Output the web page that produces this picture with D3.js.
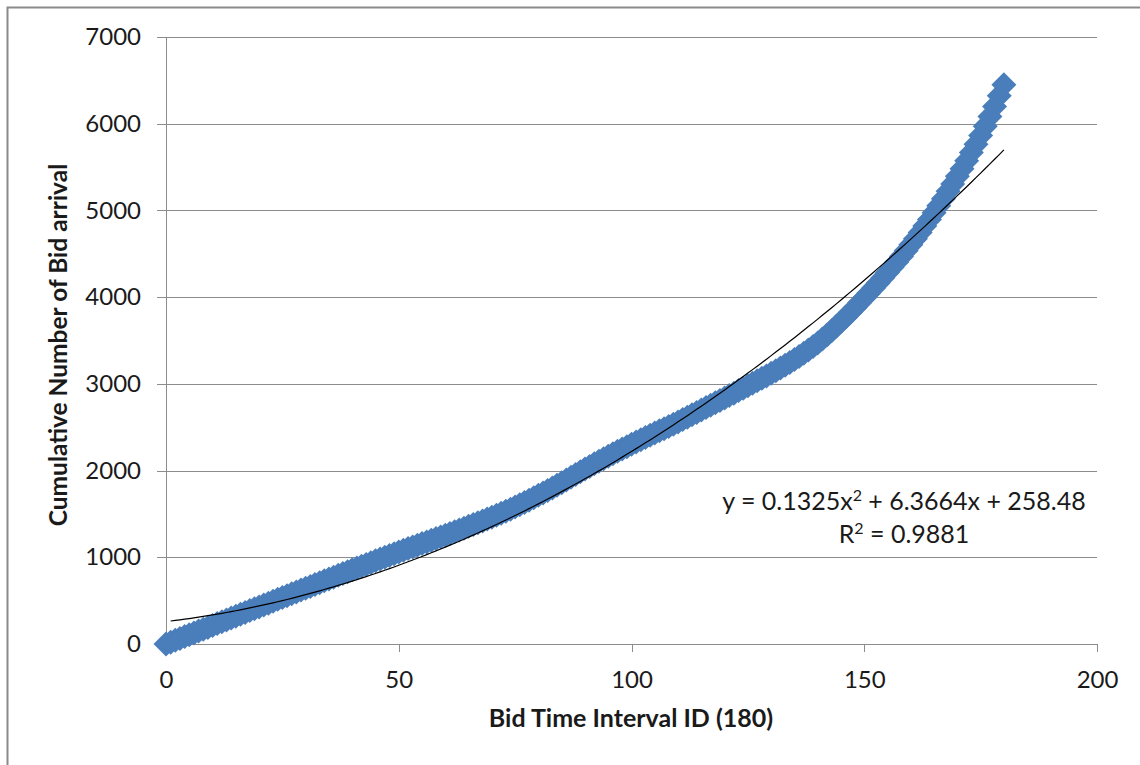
<!DOCTYPE html>
<html>
<head>
<meta charset="utf-8">
<script src="https://cdn.jsdelivr.net/npm/d3@7"></script>
<style>
  html, body { margin: 0; padding: 0; background: #fff; }
  svg { display: block; }
</style>
</head>
<body>
<div id="chart"></div>
<script>
// interval ids (0..180) and cumulative bid arrivals
var intervalIds = d3.range(0, 181);
var cumulativeBids = [
  0,
  20, 42, 63, 86, 106, 128, 149, 171, 191, 214,
  235, 257, 277, 299, 320, 343, 364, 386, 406, 428,
  450, 471, 494, 515, 537, 557, 579, 600, 622, 642,
  663, 685, 706, 728, 749, 770, 792, 813, 834, 856,
  876, 897, 918, 938, 959, 979, 1000, 1020, 1041, 1061,
  1080, 1100, 1119, 1138, 1158, 1177, 1196, 1216, 1235, 1255,
  1275, 1295, 1316, 1336, 1357, 1378, 1398, 1419, 1441, 1462,
  1484, 1507, 1531, 1555, 1580, 1606, 1632, 1659, 1686, 1714,
  1742, 1771, 1800, 1830, 1860, 1891, 1922, 1954, 1985, 2017,
  2048, 2078, 2108, 2137, 2166, 2194, 2222, 2249, 2276, 2303,
  2329, 2355, 2381, 2406, 2432, 2458, 2483, 2509, 2535, 2561,
  2588, 2615, 2643, 2670, 2698, 2726, 2753, 2781, 2809, 2837,
  2865, 2893, 2922, 2950, 2979, 3007, 3035, 3064, 3092, 3121,
  3151, 3182, 3214, 3247, 3281, 3316, 3352, 3390, 3430, 3472,
  3517, 3564, 3613, 3664, 3716, 3769, 3823, 3878, 3934, 3991,
  4048, 4106, 4164, 4223, 4283, 4344, 4406, 4470, 4536, 4604,
  4674, 4746, 4820, 4896, 4974, 5054, 5136, 5220, 5306, 5394,
  5482, 5573, 5667, 5764, 5865, 5971, 6082, 6199, 6322, 6450
];

// polynomial trendline shown on the chart: c2*x^2 + c1*x + c0
var trendCoeffs = [0.1325, 6.3664, 258.48];
var trendRange = [1, 180];
var rSquared = "0.9881";

var xTicks = [0, 50, 100, 150, 200];
var yTicks = [0, 1000, 2000, 3000, 4000, 5000, 6000, 7000];

var xTitle = "Bid Time Interval ID (180)";
var yTitle = "Cumulative Number of Bid arrival";

var width = 1140, height = 765;
var font = "Lato, 'Open Sans', sans-serif";

var svg = d3.select("#chart").append("svg")
    .attr("width", width)
    .attr("height", height);

// chart frame (right and bottom edges fall outside the picture)
svg.append("rect")
    .attr("x", 7.5).attr("y", 7.5)
    .attr("width", 1150).attr("height", 780)
    .attr("fill", "#fff")
    .attr("stroke", "#8a8a8a")
    .attr("stroke-width", 2);

var x = d3.scaleLinear().domain([0, 200]).range([166, 1097]);
var y = d3.scaleLinear().domain([0, 7000]).range([644, 37]);

// gridlines
svg.append("g")
    .attr("transform", "translate(166,0)")
    .call(d3.axisRight(y).tickValues(yTicks.slice(1)).tickSize(1097 - 166).tickFormat(""))
    .call(function(g) { g.select(".domain").remove(); })
    .selectAll("line")
    .attr("stroke", "#8c8c8c")
    .attr("shape-rendering", "crispEdges");

// y axis
var yAxis = svg.append("g")
    .attr("transform", "translate(166,0)")
    .call(d3.axisLeft(y).tickValues(yTicks).tickFormat(d3.format("d"))
        .tickSize(9).tickPadding(16).tickSizeOuter(0));
yAxis.select(".domain").attr("stroke", "#8c8c8c").attr("shape-rendering", "crispEdges");
yAxis.selectAll("line").attr("stroke", "#8c8c8c").attr("shape-rendering", "crispEdges");
yAxis.selectAll("text")
    .attr("font-family", font)
    .attr("font-size", 24)
    .attr("fill", "#1a1a1a");

// x axis
var xAxis = svg.append("g")
    .attr("transform", "translate(0,644)")
    .call(d3.axisBottom(x).tickValues(xTicks).tickSize(8).tickPadding(19).tickSizeOuter(0));
xAxis.select(".domain").attr("stroke", "#8c8c8c").attr("shape-rendering", "crispEdges");
xAxis.selectAll("line").attr("stroke", "#8c8c8c").attr("shape-rendering", "crispEdges");
xAxis.selectAll("text")
    .attr("font-family", font)
    .attr("font-size", 24)
    .attr("fill", "#1a1a1a");

// data markers (diamonds)
var r = 12.5;
var diamond = "M0," + (-r) + "L" + r + ",0L0," + r + "L" + (-r) + ",0Z";

svg.append("g")
    .selectAll("path")
    .data(intervalIds)
    .enter().append("path")
    .attr("d", diamond)
    .attr("transform", function(d, i) { return "translate(" + x(d) + "," + y(cumulativeBids[i]) + ")"; })
    .attr("fill", "#4a7ebb");

// trendline
var trendX = d3.range(trendRange[0], trendRange[1] + 0.5, 1);
var line = d3.line()
    .x(function(d) { return x(d); })
    .y(function(d) { return y(trendCoeffs[0] * d * d + trendCoeffs[1] * d + trendCoeffs[2]); });

svg.append("path")
    .datum(trendX)
    .attr("d", line)
    .attr("fill", "none")
    .attr("stroke", "#000")
    .attr("stroke-width", 1.2);

// trendline equation, with real superscripts
function supText(xPos, yPos, parts) {
    var t = svg.append("text")
        .attr("x", xPos).attr("y", yPos)
        .attr("text-anchor", "middle")
        .attr("font-family", font)
        .attr("font-size", 25)
        .attr("fill", "#1a1a1a");
    parts.forEach(function(p) {
        var s = t.append("tspan").text(p[0]);
        if (p[1]) s.attr("font-size", 16).attr("dy", -9);
        else if (p[2]) s.attr("dy", 9);
    });
}

supText(904, 510, [
    ["y = " + trendCoeffs[0] + "x"], ["2", true],
    [" + " + trendCoeffs[1] + "x + " + trendCoeffs[2], false, true]
]);
supText(904, 543, [["R"], ["2", true], [" = " + rSquared, false, true]]);

// axis titles
svg.append("text")
    .attr("x", 631).attr("y", 727)
    .attr("text-anchor", "middle")
    .attr("font-family", font)
    .attr("font-weight", "bold")
    .attr("font-size", 25)
    .attr("fill", "#1a1a1a")
    .text(xTitle);

svg.append("text")
    .attr("transform", "translate(67,345) rotate(-90)")
    .attr("text-anchor", "middle")
    .attr("font-family", font)
    .attr("font-weight", "bold")
    .attr("font-size", 24.5)
    .attr("fill", "#1a1a1a")
    .text(yTitle);
</script>
</body>
</html>
